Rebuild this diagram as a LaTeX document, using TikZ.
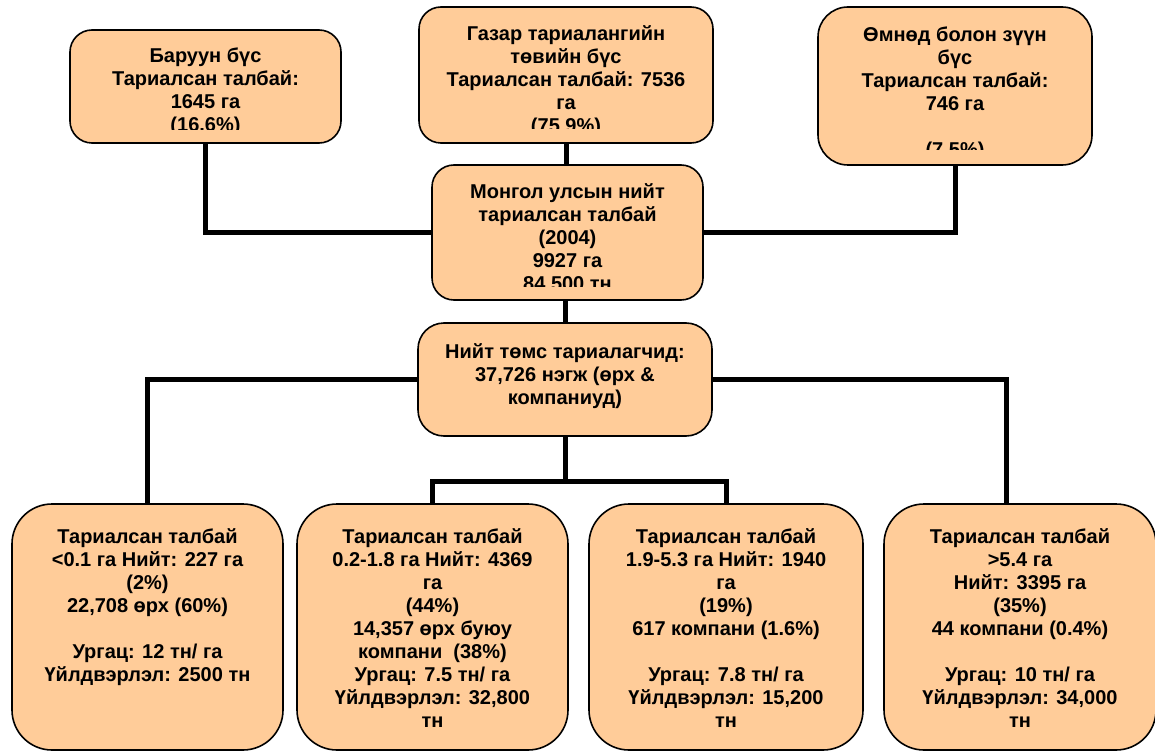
\documentclass[tikz,border=0pt]{standalone}
\usepackage{fontspec}
\setmainfont{Liberation Sans}
\usetikzlibrary{calc}
\definecolor{peach}{RGB}{255,204,153}
\tikzset{
 areabox/.style={draw=black, line width=1.6pt, fill=peach, inner sep=0pt, rounded corners=22pt},
 farmbox/.style={areabox, rounded corners=40pt, minimum height=246pt},
 boxtext/.style={anchor=north, inner sep=0pt, align=center, font=\bfseries\fontsize{20}{23}\selectfont},
 link/.style={line width=5pt}
}

\begin{document}
\begin{tikzpicture}[x=1pt,y=-1pt]
 \useasboundingbox (0,0) rectangle (1155,751);
 % regions
 \node[areabox, minimum width=271pt, minimum height=113pt] (west) at (205.5,86.5) {};
 \node[areabox, minimum width=294pt, minimum height=136pt] (central) at (566,75) {};
 \node[areabox, minimum width=274pt, minimum height=158pt, rounded corners=30pt] (south) at (955,86) {};
 \node[areabox, minimum width=271pt, minimum height=135pt] (nation) at (567.5,232.5) {};
 \node[areabox, minimum width=294pt, minimum height=113pt, rounded corners=26pt] (farmers) at (565,379.5) {};
 % farm sizes
 \foreach \n/\x/\w in {b1/147.5/271, b2/432.5/271, b3/726/274, b4/1020/272}
  \node[farmbox, minimum width=\w pt] (\n) at (\x,627) {};

 % texts, cut off at the bottom as in the slide
 \begin{scope}
  \clip ($(west.south west)+(0,14pt)$) rectangle (west.north east);
  \node[boxtext] (westtxt) at (205.5,48) {Баруун бүс\\Тариалсан талбай:\\1645 га\\(16.6\%)};
 \end{scope}
 \begin{scope}
  \clip ($(central.south west)+(0,15pt)$) rectangle (central.north east);
  \node[boxtext] (centraltxt) at (566,25.5) {Газар тариалангийн\\төвийн бүс\\Тариалсан талбай: 7536\\га\\(75.9\%)};
 \end{scope}
 \begin{scope}
  \clip ($(south.south west)+(0,16pt)$) rectangle (south.north east);
  \node[boxtext] (southtxt) at (955,26.5) {Өмнөд болон зүүн\\бүс\\Тариалсан талбай:\\746 га\\ \\(7.5\%)};
 \end{scope}
 \begin{scope}
  \clip ($(nation.south west)+(0,14pt)$) rectangle (nation.north east);
  \node[boxtext] (nationtxt) at (567.5,183.5) {Монгол улсын нийт\\тариалсан талбай\\(2004)\\9927 га\\84,500 тн};
 \end{scope}
 \node[boxtext] (farmerstxt) at (565,343.5) {Нийт төмс тариалагчид:\\37,726 нэгж (өрх \&\\компаниуд)};

 \node[boxtext] (b1txt) at (147.5,528) {Тариалсан талбай\\<0.1 га Нийт: 227 га\\(2\%)\\22,708 өрх (60\%)\\ \\Ургац: 12 тн/ га\\Үйлдвэрлэл: 2500 тн};
 \node[boxtext] (b2txt) at (432.5,528) {Тариалсан талбай\\0.2-1.8 га Нийт: 4369\\га\\(44\%)\\14,357 өрх буюу\\компани~ (38\%)\\Ургац: 7.5 тн/ га\\Үйлдвэрлэл: 32,800\\тн};
 \node[boxtext] (b3txt) at (726,528) {Тариалсан талбай\\1.9-5.3 га Нийт: 1940\\га\\(19\%)\\617 компани (1.6\%)\\ \\Ургац: 7.8 тн/ га\\Үйлдвэрлэл: 15,200\\тн};
 \node[boxtext] (b4txt) at (1020,528) {Тариалсан талбай\\>5.4 га\\Нийт: 3395 га\\(35\%)\\44 компани (0.4\%)\\ \\Ургац: 10 тн/ га\\Үйлдвэрлэл: 34,000\\тн};

 % connectors
 \draw[link] (west.south) |- (nation.west);
 \draw[link] (central.south) -- (central.south |- nation.north);
 \draw[link] (south.south) |- (nation.east);
 \draw[link] (farmers.north |- nation.south) -- (farmers.north);
 \draw[link] (farmers.west) -| (b1.north);
 \draw[link] (farmers.east) -| ($(b4.north)+(-14pt,0)$);
 \draw[link] (farmers.south) -- ++(0,45) coordinate (fork);
 \draw[link] (b2.north) |- (fork) -| (b3.north);
\end{tikzpicture}
\end{document}
